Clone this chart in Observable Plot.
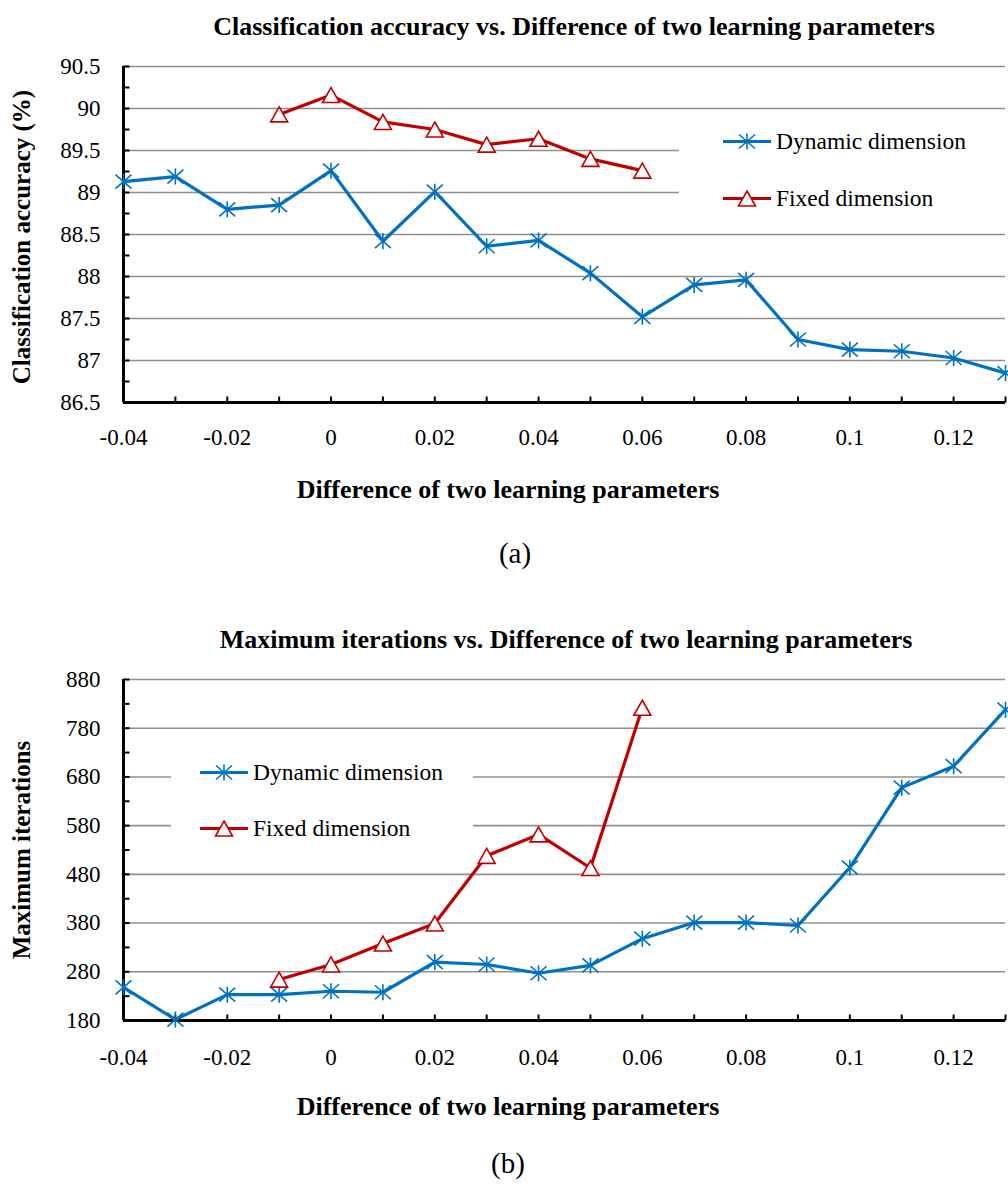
<!DOCTYPE html>
<html>
<head>
<meta charset="utf-8">
<script src="https://cdn.jsdelivr.net/npm/d3@7"></script>
<script src="https://cdn.jsdelivr.net/npm/@observablehq/plot@0.6"></script>
<style>
  html, body { margin: 0; padding: 0; background: #fff; }
  #root { position: relative; width: 1008px; height: 1184px; font-family: "Liberation Serif", "Times New Roman", serif; color: #000; }
  .abs { position: absolute; white-space: nowrap; transform: translate(-50%, -50%); }
  .title { font-weight: bold; font-size: 26px; }
  .axlabel { font-weight: bold; font-size: 26px; }
  .cap { font-size: 29px; }
  .ylab { font-weight: bold; font-size: 25px; transform: translate(-50%, -50%) rotate(-90deg); }
  .legbox { position: absolute; background: #fff; }
  .legrow { position: absolute; display: flex; align-items: center; font-size: 23.5px; font-family: "Liberation Serif", serif; transform: translateY(-50%); }
  .legrow svg { margin-right: 5px; }
  .plot { position: absolute; left: 0; }
  .plot text { font-family: "Liberation Serif", "Times New Roman", serif !important; }
</style>
</head>
<body>
<div id="root"></div>
<script>
// ---------- data ----------
const xValues = [-0.04, -0.03, -0.02, -0.01, 0, 0.01, 0.02, 0.03, 0.04, 0.05, 0.06, 0.07, 0.08, 0.09, 0.1, 0.11, 0.12, 0.13];
const xFixed = [-0.01, 0, 0.01, 0.02, 0.03, 0.04, 0.05, 0.06];
const xTickLabels = [-0.04, -0.02, 0, 0.02, 0.04, 0.06, 0.08, 0.1, 0.12];

// (a) Classification accuracy (%)
const accDynamic = [89.13, 89.19, 88.80, 88.85, 89.26, 88.42, 89.01, 88.36, 88.43, 88.04, 87.52, 87.90, 87.96, 87.25, 87.13, 87.11, 87.03, 86.85];
const accFixed = [89.93, 90.16, 89.84, 89.75, 89.57, 89.64, 89.40, 89.26];
const accTicks = [86.5, 87, 87.5, 88, 88.5, 89, 89.5, 90, 90.5];
const accMinor = [86.75, 87.25, 87.75, 88.25, 88.75, 89.25, 89.75, 90.25, 90.5, 90, 89.5, 89, 88.5, 88, 87.5, 87];

// (b) Maximum iterations
const iterDynamic = [248, 182, 233, 233, 240, 238, 300, 295, 277, 293, 348, 381, 381, 375, 494, 658, 702, 818];
const iterFixed = [264, 295, 338, 379, 518, 562, 493, 822];
const iterTicks = [180, 280, 380, 480, 580, 680, 780, 880];
const iterMinor = [230, 330, 430, 530, 630, 730, 830, 280, 380, 480, 580, 680, 780, 880];

const seriesNames = ["Dynamic dimension", "Fixed dimension"];
const titles = ["Classification accuracy vs. Difference of two learning parameters", "Maximum iterations vs. Difference of two learning parameters"];
const yLabels = ["Classification accuracy (%)", "Maximum iterations"];
const xLabel = "Difference of two learning parameters";
const captions = ["(a)", "(b)"];

// ---------- styles ----------
const BLUE = "#0070C0";
const RED = "#C00000";
const GRID = "#8f8f8f";
const FONT = "Liberation Serif";

const asterisk = { draw(ctx) {
  ctx.moveTo(-8, -7); ctx.lineTo(8, 7);
  ctx.moveTo(8, -7); ctx.lineTo(-8, 7);
  ctx.moveTo(0, -8); ctx.lineTo(0, 8);
}};
const triangle = { draw(ctx) {
  ctx.moveTo(0, -7.5); ctx.lineTo(8.5, 7.5); ctx.lineTo(-8.5, 7.5); ctx.closePath();
}};
const tickRight = { draw(ctx) { ctx.moveTo(0, 0); ctx.lineTo(6, 0); } };
const tickUp = { draw(ctx) { ctx.moveTo(0, 0); ctx.lineTo(0, -6); } };

const root = document.getElementById("root");

function makeChart({top, height, marginTop, marginBottom, yDomain, yTicks, yMinor, dyn, fix, xPad}) {
  const dynData = xValues.map((x, i) => ({x, y: dyn[i]}));
  const fixData = xFixed.map((x, i) => ({x, y: fix[i]}));
  const xMin = xValues[0], yMin = yDomain[0];
  const chart = Plot.plot({
    width: 1008,
    height,
    marginLeft: 123,
    marginRight: 3,
    marginTop,
    marginBottom,
    style: { fontFamily: "'Liberation Serif', 'Times New Roman', serif", fontSize: "23px", color: "#000", background: "#fff" },
    x: { domain: [xValues[0], xValues[xValues.length - 1]] },
    y: { domain: yDomain },
    marks: [
      Plot.ruleY(yTicks.filter(d => d !== yMin), { stroke: GRID, strokeWidth: 1.6 }),
      Plot.axisY({ ticks: yTicks, tickSize: 0, tickPadding: 23, tickFormat: d => String(d), label: null, fontSize: 23, fontFamily: FONT }),
      Plot.axisX({ ticks: xTickLabels, tickSize: 0, tickPadding: xPad, tickFormat: d => String(d), label: null, fontSize: 23, fontFamily: FONT }),
      Plot.dot(yMinor, { x: () => xMin, y: d => d, symbol: tickRight, stroke: "#000", strokeWidth: 2, fill: "none" }),
      Plot.dot(xValues, { x: d => d, y: () => yMin, symbol: tickUp, stroke: "#000", strokeWidth: 2, fill: "none" }),
      Plot.ruleX([xMin], { stroke: "#000", strokeWidth: 3 }),
      Plot.ruleY([yMin], { stroke: "#000", strokeWidth: 3 }),
      Plot.line(dynData, { x: "x", y: "y", stroke: BLUE, strokeWidth: 3.2 }),
      Plot.dot(dynData, { x: "x", y: "y", symbol: asterisk, stroke: BLUE, strokeWidth: 1.6, fill: "none" }),
      Plot.line(fixData, { x: "x", y: "y", stroke: RED, strokeWidth: 3.2 }),
      Plot.dot(fixData, { x: "x", y: "y", symbol: triangle, stroke: RED, strokeWidth: 1.6, fill: "#fff" })
    ]
  });
  chart.classList.add("plot");
  chart.style.top = top + "px";
  chart.querySelectorAll("text").forEach(t => t.style.fontFamily = "'Liberation Serif', serif");
  root.appendChild(chart);
}

function addText(cls, text, x, y) {
  const d = document.createElement("div");
  d.className = "abs " + cls;
  d.style.left = x + "px";
  d.style.top = y + "px";
  d.textContent = text;
  root.appendChild(d);
}

function legendSample(color, symbolPath, fill) {
  return `<svg width="48" height="20" viewBox="0 0 48 20"><line x1="0" y1="10" x2="48" y2="10" stroke="${color}" stroke-width="3.2"/><path transform="translate(24,10)" d="${symbolPath}" stroke="${color}" stroke-width="1.6" fill="${fill}"/></svg>`;
}
const asteriskPath = "M-8,-7L8,7M8,-7L-8,7M0,-8L0,8";
const trianglePath = "M0,-7.5L8.5,7.5L-8.5,7.5Z";

function addLegend(box, rows) {
  const b = document.createElement("div");
  b.className = "legbox";
  Object.assign(b.style, { left: box[0] + "px", top: box[1] + "px", width: box[2] + "px", height: box[3] + "px" });
  root.appendChild(b);
  rows.forEach(([x, y], i) => {
    const r = document.createElement("div");
    r.className = "legrow";
    r.style.left = x + "px";
    r.style.top = y + "px";
    r.innerHTML = (i === 0 ? legendSample(BLUE, asteriskPath, "none") : legendSample(RED, trianglePath, "#fff")) + `<span>${seriesNames[i]}</span>`;
    root.appendChild(r);
  });
}

// Chart (a)
makeChart({ top: 0, height: 470, marginTop: 66, marginBottom: 68, yDomain: [86.5, 90.5], yTicks: accTicks, yMinor: accMinor, dyn: accDynamic, fix: accFixed, xPad: 26 });
addText("title", titles[0], 574, 27);
addText("axlabel", xLabel, 508, 490);
addText("cap", captions[0], 515, 553);
addText("ylab", yLabels[0], 22, 237);
addLegend([679, 112, 329, 118], [[723, 141], [723, 198]]);

// Chart (b)
makeChart({ top: 600, height: 490, marginTop: 79, marginBottom: 70, yDomain: [180, 880], yTicks: iterTicks, yMinor: iterMinor, dyn: iterDynamic, fix: iterFixed, xPad: 28 });
addText("title", titles[1], 566, 640);
addText("axlabel", xLabel, 508, 1107);
addText("cap", captions[1], 508, 1163);
addText("ylab", yLabels[1], 22, 850);
addLegend([171, 736, 302, 132], [[200, 772], [200, 828]]);
</script>
</body>
</html>
